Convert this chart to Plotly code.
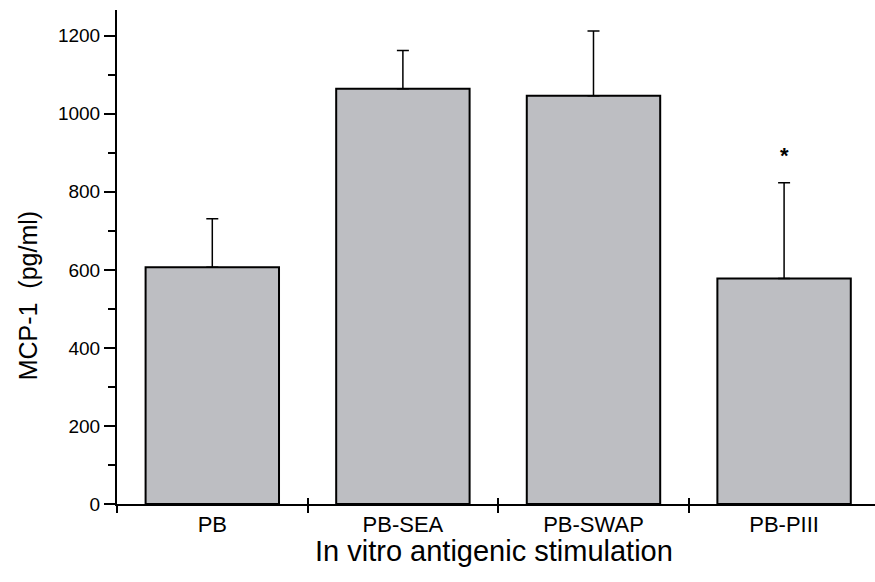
import plotly.graph_objects as go

categories = ["PB", "PB-SEA", "PB-SWAP", "PB-PIII"]
mcp1_mean = [607, 1064, 1046, 578]
mcp1_sd = [124, 98, 166, 245]
significance = ["", "", "", "*"]
y_ticks = [0, 200, 400, 600, 800, 1000, 1200]

xpos = list(range(len(categories)))
boundaries = [i - 0.5 for i in range(len(categories) + 1)]

fig = go.Figure()
fig.add_trace(go.Bar(
    x=xpos, y=mcp1_mean, width=0.7,
    marker=dict(color="#bdbec2", line=dict(color="black", width=2)),
    error_y=dict(type="data", array=mcp1_sd, arrayminus=[0]*len(mcp1_sd),
                 symmetric=False, color="black", thickness=1.5, width=6),
    showlegend=False, hoverinfo="skip",
))

font = "Liberation Sans, Arial, sans-serif"

annotations = []
for i, s in enumerate(significance):
    if s:
        annotations.append(dict(x=xpos[i], y=mcp1_mean[i] + mcp1_sd[i] + 70, text="<b>" + s + "</b>",
                                showarrow=False, xref="x", yref="y",
                                font=dict(family=font, size=22, color="black")))
annotations.append(dict(x=-0.117, y=0.421, xref="paper", yref="paper",
                        text="MCP-1  (pg/ml)", textangle=-90, showarrow=False,
                        xanchor="center", yanchor="middle",
                        font=dict(family=font, size=25, color="black")))
annotations.append(dict(x=0.497, y=-0.059, xref="paper", yref="paper",
                        text="In vitro antigenic stimulation", showarrow=False,
                        xanchor="center", yanchor="top",
                        font=dict(family=font, size=29, color="black")))

xrange = [-0.5, 3.477]
fig.update_layout(
    width=875, height=582,
    margin=dict(l=117, r=0, t=10, b=78, autoexpand=False),
    plot_bgcolor="white", paper_bgcolor="white",
    xaxis=dict(
        range=xrange, tickmode="array", tickvals=xpos, ticktext=categories,
        ticks="", showgrid=False, zeroline=False, automargin=False,
        showline=True, linecolor="black", linewidth=2,
        tickfont=dict(family=font, size=22, color="black"),
        minor=dict(tickmode="array", tickvals=boundaries, ticks="outside",
                   ticklen=7, tickwidth=2, tickcolor="black"),
    ),
    xaxis2=dict(
        range=xrange, overlaying="x", anchor="y", side="bottom",
        tickmode="array", tickvals=boundaries, ticks="inside", ticklen=6,
        tickwidth=2, tickcolor="black", showticklabels=False, automargin=False,
        showgrid=False, zeroline=False, showline=False,
    ),
    yaxis=dict(
        range=[0, 1266], tickmode="array", tickvals=y_ticks, automargin=False,
        ticks="outside", ticklen=11, tickwidth=2, tickcolor="black",
        showgrid=False, zeroline=False,
        showline=True, linecolor="black", linewidth=2,
        tickfont=dict(family=font, size=19, color="black"),
        minor=dict(tickmode="array", tickvals=[100, 300, 500, 700, 900, 1100],
                   ticks="outside", ticklen=7, tickwidth=2, tickcolor="black"),
    ),
    annotations=annotations,
)
# invisible trace on xaxis2 so the overlay axis renders
fig.add_trace(go.Scatter(x=[xpos[0]], y=[0], xaxis="x2", mode="markers",
                         marker=dict(opacity=0), showlegend=False, hoverinfo="skip"))

fig.write_html("out.html", config={"displayModeBar": False},
               post_script="document.body.style.margin='0';document.body.style.padding='0';")
